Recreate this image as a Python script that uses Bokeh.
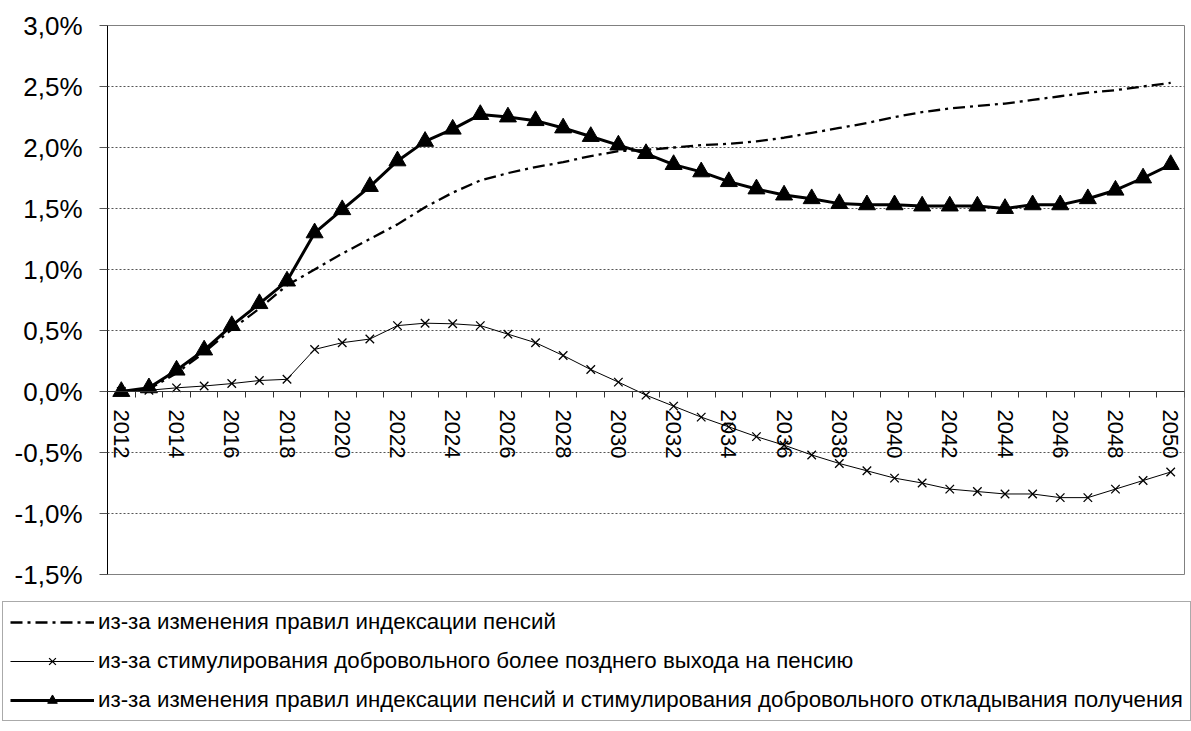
from bokeh.plotting import figure
from bokeh.layouts import column
from bokeh.models import (FixedTicker, CustomJSTickFormatter, Legend, LegendItem, Range1d)
from bokeh.embed import file_html
from bokeh.resources import INLINE

years = list(range(2012, 2051))

index_rule = [0.00, 0.02, 0.15, 0.32, 0.51, 0.68, 0.87, 1.00, 1.13, 1.25, 1.37, 1.51, 1.63,
              1.73, 1.79, 1.84, 1.88, 1.93, 1.97, 1.98, 2.00, 2.02, 2.03, 2.05, 2.08, 2.12,
              2.16, 2.20, 2.25, 2.29, 2.32, 2.34, 2.36, 2.39, 2.42, 2.45, 2.47, 2.50, 2.53]

late_retirement = [0.00, 0.01, 0.03, 0.045, 0.065, 0.09, 0.10, 0.345, 0.40, 0.43, 0.54, 0.56,
                   0.555, 0.54, 0.47, 0.40, 0.295, 0.18, 0.077, -0.03, -0.12, -0.21, -0.29,
                   -0.37, -0.44, -0.52, -0.59, -0.65, -0.71, -0.75, -0.80, -0.82, -0.84, -0.84,
                   -0.87, -0.87, -0.80, -0.73, -0.66]

combined = [0.00, 0.03, 0.175, 0.34, 0.54, 0.72, 0.905, 1.30, 1.49, 1.68, 1.89, 2.05, 2.15,
            2.27, 2.25, 2.22, 2.16, 2.09, 2.02, 1.95, 1.86, 1.80, 1.72, 1.66, 1.61, 1.58,
            1.54, 1.53, 1.53, 1.52, 1.52, 1.52, 1.50, 1.53, 1.53, 1.58, 1.65, 1.75, 1.86]

y_ticks = [-1.5, -1.0, -0.5, 0.0, 0.5, 1.0, 1.5, 2.0, 2.5, 3.0]
x_label_years = list(range(2012, 2051, 2))
x_tick_bounds = [y - 0.5 for y in range(2012, 2052)]

labels = [
    "из-за изменения правил индексации пенсий",
    "из-за стимулирования добровольного более позднего выхода на пенсию",
    "из-за изменения правил индексации пенсий и стимулирования добровольного откладывания получения",
]

FONT = "Liberation Sans"
W = 1191
H1 = 590
H2 = 141

S_INDEX = dict(line_color="black", line_width=2.3, line_dash="12 5 3 5")
S_LATE_L = dict(line_color="black", line_width=1)
S_LATE_M = dict(marker="x", size=12, line_color="black", line_width=1.3)
S_COMB_L = dict(line_color="black", line_width=3)
S_COMB_M = dict(marker="triangle", size=17, fill_color="black", line_color="black")

p = figure(width=W, height=H1, output_backend="svg", toolbar_location=None,
           x_range=Range1d(2011.5, 2050.5), y_range=Range1d(-1.5, 3.0),
           min_border_left=107, min_border_right=7, min_border_top=25, min_border_bottom=16)
p.frame_align = False
p.background_fill_color = "white"
p.border_fill_color = "white"
p.outline_line_color = "#808080"
p.outline_line_width = 1

# y axis
p.yaxis.ticker = FixedTicker(ticks=y_ticks)
p.yaxis.formatter = CustomJSTickFormatter(code="return tick.toFixed(1).replace('.', ',') + '%';")
p.yaxis.major_label_text_font = FONT
p.yaxis.major_label_text_font_size = "26px"
p.yaxis.major_label_text_color = "black"
p.yaxis.major_tick_out = 8
p.yaxis.major_tick_in = 0
p.yaxis.minor_tick_line_color = None
p.yaxis.major_label_standoff = 17
p.yaxis.axis_line_color = "black"
p.yaxis.major_tick_line_color = "#555555"

# x axis drawn at y = 0
p.xaxis.fixed_location = 0
p.xaxis.ticker = FixedTicker(ticks=x_label_years, minor_ticks=x_tick_bounds)
p.xaxis.formatter = CustomJSTickFormatter(code="return tick.toFixed(0);")
p.xaxis.major_label_orientation = "vertical"
p.xaxis.major_label_text_font = FONT
p.xaxis.major_label_text_font_size = "22px"
p.xaxis.major_label_text_color = "black"
p.xaxis.major_tick_line_color = None
p.xaxis.major_tick_out = 0
p.xaxis.major_tick_in = 0
p.xaxis.minor_tick_out = 6
p.xaxis.minor_tick_in = 0
p.xaxis.minor_tick_line_color = "#333333"
p.xaxis.axis_line_color = "#333333"
p.xaxis.major_label_standoff = 12

p.xgrid.visible = False
p.ygrid.ticker = FixedTicker(ticks=y_ticks)
p.ygrid.grid_line_color = "#555555"
p.ygrid.grid_line_dash = "2 2"
p.ygrid.grid_line_width = 1

p.line(years, index_rule, **S_INDEX)
p.line(years, late_retirement, **S_LATE_L)
p.scatter(years, late_retirement, **S_LATE_M)
p.line(years, combined, **S_COMB_L)
p.scatter(years, combined, **S_COMB_M)

# legend panel below the chart (its renderers lie outside its view; only the legend shows)
lg = figure(width=W, height=H2, output_backend="svg", toolbar_location=None,
            x_range=Range1d(0, 1), y_range=Range1d(0, 1),
            min_border=0, min_border_left=0, min_border_right=0,
            min_border_top=0, min_border_bottom=0)
lg.frame_align = False
lg.axis.visible = False
lg.grid.visible = False
lg.outline_line_color = None
lg.background_fill_color = "white"
lg.border_fill_color = "white"

e1 = lg.line(years, index_rule, **S_INDEX)
e2l = lg.line(years, late_retirement, **S_LATE_L)
e2m = lg.scatter(years, late_retirement, **S_LATE_M)
e3l = lg.line(years, combined, **S_COMB_L)
e3m = lg.scatter(years, combined, **S_COMB_M)

legend = Legend(items=[
    LegendItem(label=labels[0], renderers=[e1]),
    LegendItem(label=labels[1], renderers=[e2l, e2m]),
    LegendItem(label=labels[2], renderers=[e3l, e3m]),
], location=(2, 10), orientation="vertical")
legend.label_text_font = FONT
legend.label_text_font_size = "22.3px"
legend.label_text_color = "black"
legend.glyph_width = 84
legend.glyph_height = 24
legend.label_height = 24
legend.spacing = 13
legend.padding = 7
legend.margin = 0
legend.label_standoff = 4
legend.border_line_color = "#555555"
legend.border_line_width = 1
legend.background_fill_color = "white"
legend.background_fill_alpha = 1
lg.add_layout(legend, "center")

layout = column(p, lg, spacing=0)
open("out.html", "w").write(file_html(layout, INLINE))
